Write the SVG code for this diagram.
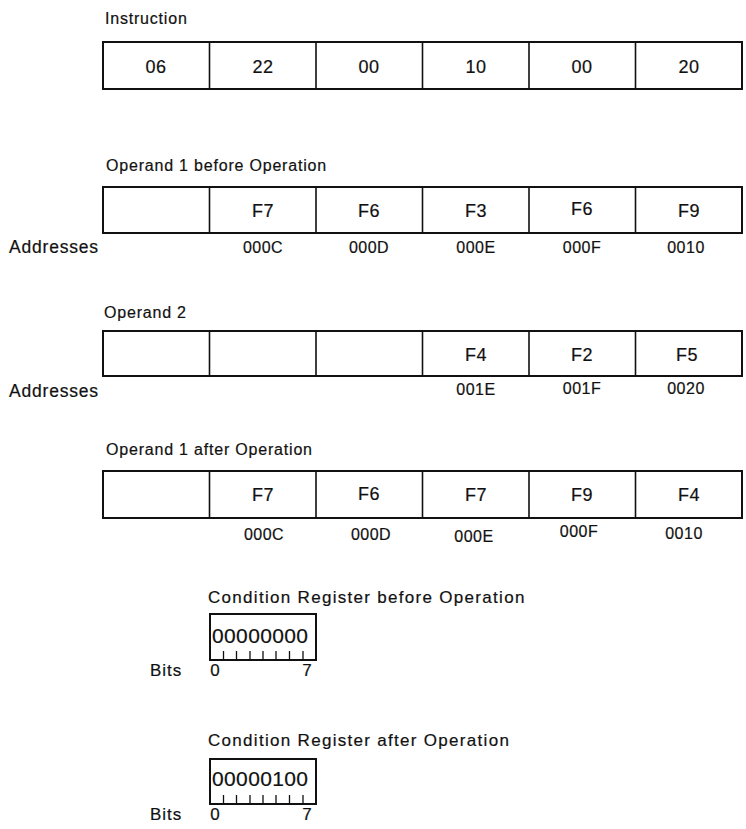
<svg xmlns="http://www.w3.org/2000/svg" width="746" height="829" viewBox="0 0 746 829">
<style>
text{font-family:"Liberation Sans",Arial,sans-serif;fill:#111;stroke:#111;stroke-width:0.2}
.lbl{font-size:16px;letter-spacing:0.8px}
.adl{font-size:17.5px;letter-spacing:0.8px}
.cnd{font-size:17px;letter-spacing:1.3px}
.val{font-size:18px;text-anchor:middle;letter-spacing:0.5px}
.adr{font-size:16px;text-anchor:middle;letter-spacing:0.5px}
.box{fill:#fff;stroke:#111;stroke-width:2}
.div{stroke:#111;stroke-width:1.6}
.reg{font-size:21px}
.tick{stroke:#111;stroke-width:1.3}
</style>
<rect width="746" height="829" fill="#fff"/>

<g id="instruction">
<text class="lbl" x="105" y="24">Instruction</text>
<rect class="box" x="103" y="42" width="639" height="47"/>
<path class="div" d="M209.5 42V89M316 42V89M422.5 42V89M529 42V89M635.5 42V89"/>
<text class="val" x="156" y="73">06</text>
<text class="val" x="263" y="73">22</text>
<text class="val" x="369" y="73">00</text>
<text class="val" x="476" y="73">10</text>
<text class="val" x="582" y="73">00</text>
<text class="val" x="689" y="73">20</text>
</g>

<g id="operand1-before">
<text class="lbl" x="106" y="171">Operand 1 before Operation</text>
<rect class="box" x="103" y="187" width="639" height="46"/>
<path class="div" d="M209.5 187V233M316 187V233M422.5 187V233M529 187V233M635.5 187V233"/>
<text class="val" x="263" y="217">F7</text>
<text class="val" x="369" y="217">F6</text>
<text class="val" x="476" y="217">F3</text>
<text class="val" x="582" y="215">F6</text>
<text class="val" x="689" y="217">F9</text>
<text class="adl" x="9" y="253">Addresses</text>
<text class="adr" x="263" y="253">000C</text>
<text class="adr" x="369" y="253">000D</text>
<text class="adr" x="476" y="253">000E</text>
<text class="adr" x="582" y="253">000F</text>
<text class="adr" x="686" y="253">0010</text>
</g>

<g id="operand2">
<text class="lbl" x="104" y="318">Operand 2</text>
<rect class="box" x="103" y="331" width="639" height="45"/>
<path class="div" d="M209.5 331V376M316 331V376M422.5 331V376M529 331V376M635.5 331V376"/>
<text class="val" x="476" y="361">F4</text>
<text class="val" x="582" y="361">F2</text>
<text class="val" x="687" y="361">F5</text>
<text class="adl" x="9" y="397">Addresses</text>
<text class="adr" x="476" y="395">001E</text>
<text class="adr" x="582" y="394">001F</text>
<text class="adr" x="686" y="394">0020</text>
</g>

<g id="operand1-after">
<text class="lbl" x="106" y="455">Operand 1 after Operation</text>
<rect class="box" x="103" y="471" width="639" height="47"/>
<path class="div" d="M209.5 471V518M316 471V518M422.5 471V518M529 471V518M635.5 471V518"/>
<text class="val" x="263" y="501">F7</text>
<text class="val" x="369" y="500">F6</text>
<text class="val" x="476" y="501">F7</text>
<text class="val" x="582" y="501">F9</text>
<text class="val" x="689" y="501">F4</text>
<text class="adr" x="264" y="540">000C</text>
<text class="adr" x="371" y="540">000D</text>
<text class="adr" x="474" y="542">000E</text>
<text class="adr" x="579" y="537">000F</text>
<text class="adr" x="684" y="539">0010</text>
</g>

<g id="condition-before">
<text class="cnd" x="208" y="603">Condition Register before Operation</text>
<rect class="box" x="210" y="614" width="106" height="46"/>
<text class="reg" x="212" y="643" textLength="96">00000000</text>
<path class="tick" d="M223.5 651V659M236.5 651V659M250 651V659M263 651V659M276 651V659M289.5 651V659M303 651V659"/>
<text class="cnd" x="150" y="676" style="letter-spacing:1px">Bits</text>
<text class="cnd" x="215" y="676" style="text-anchor:middle;letter-spacing:0">0</text>
<text class="cnd" x="307" y="676" style="text-anchor:middle;letter-spacing:0">7</text>
</g>

<g id="condition-after">
<text class="cnd" x="208" y="746">Condition Register after Operation</text>
<rect class="box" x="210" y="759" width="106" height="45"/>
<text class="reg" x="212" y="786" textLength="96">00000100</text>
<path class="tick" d="M223.5 795V803M236.5 795V803M250 795V803M263 795V803M276 795V803M289.5 795V803M303 795V803"/>
<text class="cnd" x="150" y="820" style="letter-spacing:1px">Bits</text>
<text class="cnd" x="215" y="820" style="text-anchor:middle;letter-spacing:0">0</text>
<text class="cnd" x="307" y="820" style="text-anchor:middle;letter-spacing:0">7</text>
</g>
</svg>
